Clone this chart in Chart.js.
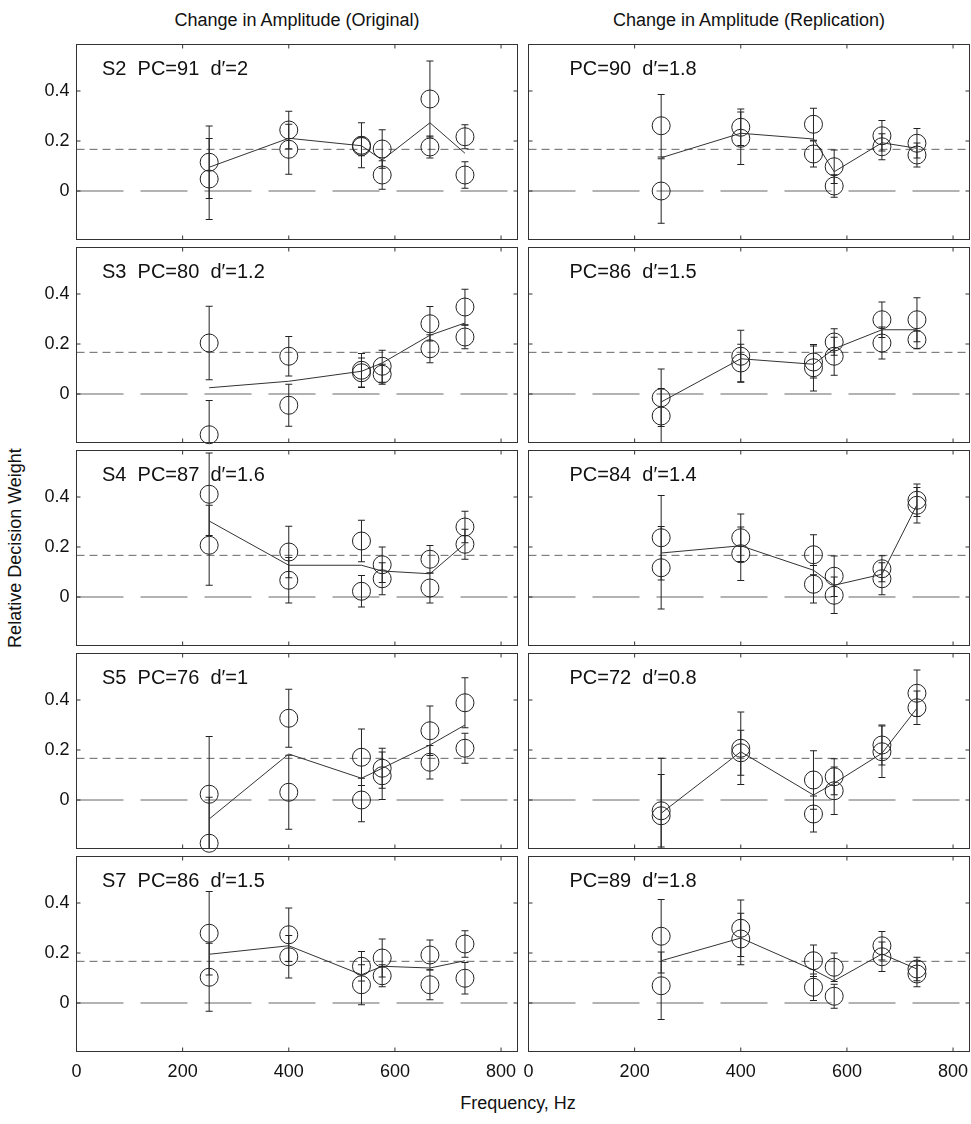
<!DOCTYPE html>
<html>
<head>
<meta charset="utf-8">
<title>Relative decision weights by frequency</title>
<script src="https://cdn.jsdelivr.net/npm/chart.js@4/dist/chart.umd.min.js"></script>
<style>
  html, body { margin: 0; padding: 0; background: #fff; }
  #fig { position: relative; width: 971px; height: 1124px; overflow: hidden;
         font-family: "Liberation Sans", Arial, Helvetica, sans-serif; color: #111; }
  .panel { position: absolute; }
  .txt { position: absolute; white-space: nowrap; font-size: 18px; line-height: 1;
         transform: translate(-50%, -50%); }
  .vert { transform: translate(-50%, -50%) rotate(-90deg); }
</style>
</head>
<body>
<div id="fig">
  <div class="txt" style="left:297px; top:20px;">Change in Amplitude (Original)</div>
  <div class="txt" style="left:749px; top:20px;">Change in Amplitude (Replication)</div>
  <div class="txt vert" style="left:15px; top:548px;">Relative Decision Weight</div>
  <div class="txt" style="left:518px; top:1103px;">Frequency, Hz</div>
</div>
<script>
// ---- component frequencies and axis ticks ----
const FREQUENCIES = [250, 400, 537, 576, 666, 732];
const X_TICKS = [0, 200, 400, 600, 800];
const Y_TICKS = [0, 0.2, 0.4];
const X_RANGE = [0, 831];
const Y_RANGE = [-0.194, 0.586];
const ZERO_WEIGHT = 0;
const EQUAL_WEIGHT = 1 / 6;

// ---- S2 ----
const S2_ORIG_A     = [0.115, 0.244, 0.183, 0.168, 0.368, 0.217];
const S2_ORIG_A_ERR = [0.145, 0.075, 0.090, 0.077, 0.152, 0.048];
const S2_ORIG_B     = [0.048, 0.167, 0.178, 0.064, 0.176, 0.064];
const S2_ORIG_B_ERR = [0.162, 0.100, 0.037, 0.057, 0.044, 0.053];
const S2_ORIG_FIT   = [0.095, 0.211, 0.181, 0.124, 0.273, 0.151];

const S2_REPL_A     = [0.261, 0.255, 0.267, 0.097, 0.221, 0.191];
const S2_REPL_A_ERR = [0.125, 0.073, 0.064, 0.067, 0.061, 0.059];
const S2_REPL_B     = [0.000, 0.211, 0.148, 0.020, 0.177, 0.144];
const S2_REPL_B_ERR = [0.129, 0.105, 0.052, 0.045, 0.052, 0.048];
const S2_REPL_FIT   = [0.133, 0.231, 0.208, 0.077, 0.193, 0.171];

// ---- S3 ----
const S3_ORIG_A     = [0.204, 0.151, 0.095, 0.111, 0.281, 0.348];
const S3_ORIG_A_ERR = [0.147, 0.079, 0.067, 0.064, 0.069, 0.071];
const S3_ORIG_B     = [-0.163, -0.045, 0.085, 0.079, 0.181, 0.228];
const S3_ORIG_B_ERR = [0.137, 0.084, 0.059, 0.040, 0.056, 0.047];
const S3_ORIG_FIT   = [0.025, 0.051, 0.091, 0.124, 0.235, 0.284];

const S3_REPL_A     = [-0.015, 0.151, 0.128, 0.208, 0.297, 0.297];
const S3_REPL_A_ERR = [0.115, 0.104, 0.064, 0.053, 0.071, 0.088];
const S3_REPL_B     = [-0.088, 0.124, 0.105, 0.151, 0.204, 0.217];
const S3_REPL_B_ERR = [0.110, 0.075, 0.093, 0.076, 0.064, 0.036];
const S3_REPL_FIT   = [-0.032, 0.141, 0.119, 0.181, 0.257, 0.257];

// ---- S4 ----
const S4_ORIG_A     = [0.411, 0.180, 0.224, 0.129, 0.151, 0.280];
const S4_ORIG_A_ERR = [0.165, 0.103, 0.083, 0.071, 0.055, 0.063];
const S4_ORIG_B     = [0.207, 0.067, 0.023, 0.073, 0.036, 0.211];
const S4_ORIG_B_ERR = [0.160, 0.091, 0.063, 0.064, 0.060, 0.060];
const S4_ORIG_FIT   = [0.304, 0.127, 0.127, 0.104, 0.093, 0.213];

const S4_REPL_A     = [0.237, 0.237, 0.169, 0.083, 0.113, 0.387];
const S4_REPL_A_ERR = [0.169, 0.095, 0.080, 0.081, 0.052, 0.065];
const S4_REPL_B     = [0.117, 0.173, 0.051, 0.007, 0.073, 0.367];
const S4_REPL_B_ERR = [0.165, 0.107, 0.075, 0.073, 0.064, 0.071];
const S4_REPL_FIT   = [0.176, 0.205, 0.107, 0.047, 0.091, 0.369];

// ---- S5 ----
const S5_ORIG_A     = [0.023, 0.327, 0.171, 0.127, 0.277, 0.389];
const S5_ORIG_A_ERR = [0.231, 0.116, 0.113, 0.080, 0.099, 0.100];
const S5_ORIG_B     = [-0.173, 0.031, 0.000, 0.097, 0.151, 0.207];
const S5_ORIG_B_ERR = [0.184, 0.148, 0.087, 0.095, 0.067, 0.060];
const S5_ORIG_FIT   = [-0.076, 0.184, 0.087, 0.127, 0.220, 0.300];

const S5_REPL_A     = [-0.043, 0.207, 0.080, 0.093, 0.220, 0.427];
const S5_REPL_A_ERR = [0.145, 0.145, 0.117, 0.072, 0.080, 0.093];
const S5_REPL_B     = [-0.063, 0.189, -0.056, 0.037, 0.193, 0.369];
const S5_REPL_B_ERR = [0.230, 0.090, 0.072, 0.095, 0.103, 0.067];
const S5_REPL_FIT   = [-0.053, 0.193, 0.020, 0.067, 0.187, 0.367];

// ---- S7 ----
const S7_ORIG_A     = [0.279, 0.273, 0.147, 0.180, 0.192, 0.236];
const S7_ORIG_A_ERR = [0.167, 0.107, 0.059, 0.076, 0.060, 0.053];
const S7_ORIG_B     = [0.103, 0.185, 0.073, 0.109, 0.073, 0.099];
const S7_ORIG_B_ERR = [0.136, 0.085, 0.080, 0.044, 0.060, 0.063];
const S7_ORIG_FIT   = [0.195, 0.229, 0.113, 0.147, 0.140, 0.169];

const S7_REPL_A     = [0.267, 0.299, 0.169, 0.143, 0.229, 0.136];
const S7_REPL_A_ERR = [0.147, 0.113, 0.063, 0.057, 0.057, 0.047];
const S7_REPL_B     = [0.069, 0.256, 0.063, 0.027, 0.185, 0.116];
const S7_REPL_B_ERR = [0.135, 0.103, 0.053, 0.048, 0.059, 0.051];
const S7_REPL_FIT   = [0.169, 0.260, 0.132, 0.089, 0.196, 0.136];

// ---- panel captions ----
const ORIG_LABELS = ['S2  PC=91  d\u2032=2', 'S3  PC=80  d\u2032=1.2', 'S4  PC=87  d\u2032=1.6',
                     'S5  PC=76  d\u2032=1', 'S7  PC=86  d\u2032=1.5'];
const REPL_LABELS = ['PC=90  d\u2032=1.8', 'PC=86  d\u2032=1.5', 'PC=84  d\u2032=1.4',
                     'PC=72  d\u2032=0.8', 'PC=89  d\u2032=1.8'];

const PANELS = [
  [S2_ORIG_A, S2_ORIG_A_ERR, S2_ORIG_B, S2_ORIG_B_ERR, S2_ORIG_FIT],
  [S2_REPL_A, S2_REPL_A_ERR, S2_REPL_B, S2_REPL_B_ERR, S2_REPL_FIT],
  [S3_ORIG_A, S3_ORIG_A_ERR, S3_ORIG_B, S3_ORIG_B_ERR, S3_ORIG_FIT],
  [S3_REPL_A, S3_REPL_A_ERR, S3_REPL_B, S3_REPL_B_ERR, S3_REPL_FIT],
  [S4_ORIG_A, S4_ORIG_A_ERR, S4_ORIG_B, S4_ORIG_B_ERR, S4_ORIG_FIT],
  [S4_REPL_A, S4_REPL_A_ERR, S4_REPL_B, S4_REPL_B_ERR, S4_REPL_FIT],
  [S5_ORIG_A, S5_ORIG_A_ERR, S5_ORIG_B, S5_ORIG_B_ERR, S5_ORIG_FIT],
  [S5_REPL_A, S5_REPL_A_ERR, S5_REPL_B, S5_REPL_B_ERR, S5_REPL_FIT],
  [S7_ORIG_A, S7_ORIG_A_ERR, S7_ORIG_B, S7_ORIG_B_ERR, S7_ORIG_FIT],
  [S7_REPL_A, S7_REPL_A_ERR, S7_REPL_B, S7_REPL_B_ERR, S7_REPL_FIT]
];

// ---- layout of the 5 x 2 grid (page pixels) ----
const COL_LEFT = [76.5, 528.5];
const PLOT_W = 441;
const ROW_TOP = [44.5, 247.5, 450.5, 653.5, 856.5];
const PLOT_H = 195;
const CANVAS_LEFT = [0, 508];
const CANVAS_W = [527, 463];
const CAPTION_DX = [25.5, 41];

const FONT_FAMILY = '"Liberation Sans", Arial, Helvetica, sans-serif';
Chart.defaults.font.family = FONT_FAMILY;
Chart.defaults.color = '#111';

// Frame, inward ticks, reference lines, error bars and caption of each panel
const panelDecor = {
  id: 'panelDecor',
  beforeDatasetsDraw(chart, args, opts) {
    const { ctx, chartArea: a, scales: { x, y } } = chart;
    ctx.save();
    ctx.beginPath();
    ctx.rect(a.left, a.top, a.right - a.left, a.bottom - a.top);
    ctx.clip();
    ctx.lineWidth = 1;
    // reference weights: zero (long dashes) and equal weight (short dashes)
    [[ZERO_WEIGHT, [47, 17]], [EQUAL_WEIGHT, [8, 5]]].forEach(([v, dash]) => {
      const py = y.getPixelForValue(v);
      ctx.strokeStyle = '#666';
      ctx.setLineDash(dash);
      ctx.beginPath();
      ctx.moveTo(a.left, py);
      ctx.lineTo(a.right, py);
      ctx.stroke();
    });
    ctx.setLineDash([]);
    // error bars (±1 SE) with short caps
    ctx.strokeStyle = '#222';
    chart.data.datasets.forEach(ds => {
      if (!ds.errorBars) return;
      ds.data.forEach((p, i) => {
        const e = ds.errorBars[i];
        const px = x.getPixelForValue(p.x);
        const hi = y.getPixelForValue(p.y + e);
        const lo = y.getPixelForValue(p.y - e);
        ctx.beginPath();
        ctx.moveTo(px, hi); ctx.lineTo(px, lo);
        ctx.moveTo(px - 3.5, hi); ctx.lineTo(px + 3.5, hi);
        ctx.moveTo(px - 3.5, lo); ctx.lineTo(px + 3.5, lo);
        ctx.stroke();
      });
    });
    ctx.restore();
  },
  afterDraw(chart, args, opts) {
    const { ctx, chartArea: a, scales: { x, y } } = chart;
    ctx.save();
    ctx.strokeStyle = '#333';
    ctx.lineWidth = 1;
    ctx.strokeRect(a.left, a.top, a.right - a.left, a.bottom - a.top);
    ctx.beginPath();
    X_TICKS.forEach(v => {
      const px = x.getPixelForValue(v);
      ctx.moveTo(px, a.top); ctx.lineTo(px, a.top + 4);
      ctx.moveTo(px, a.bottom); ctx.lineTo(px, a.bottom - 4);
    });
    Y_TICKS.forEach(v => {
      const py = y.getPixelForValue(v);
      ctx.moveTo(a.left, py); ctx.lineTo(a.left + 4, py);
      ctx.moveTo(a.right, py); ctx.lineTo(a.right - 4, py);
    });
    ctx.stroke();
    // caption
    ctx.fillStyle = '#111';
    ctx.font = '20px ' + FONT_FAMILY;
    ctx.textBaseline = 'alphabetic';
    ctx.textAlign = 'left';
    ctx.fillText(opts.caption, a.left + opts.captionDx, a.top + 30.5);
    ctx.restore();
  }
};

const fig = document.getElementById('fig');

PANELS.forEach((p, k) => {
  const row = Math.floor(k / 2), col = k % 2;
  const [aVals, aErr, bVals, bErr, fitVals] = p;
  const isBottom = row === 4, isLeft = col === 0;

  const canvasTop = Math.floor(ROW_TOP[row]) - 14;
  const padTop = ROW_TOP[row] - canvasTop;
  const padBottom = isBottom ? 49.5 : 15.5;
  const canvasH = Math.round(padTop + PLOT_H + padBottom);
  const yAxisW = COL_LEFT[col] - CANVAS_LEFT[col];
  const padRight = CANVAS_W[col] - yAxisW - PLOT_W;

  const wrap = document.createElement('div');
  wrap.className = 'panel';
  wrap.style.left = CANVAS_LEFT[col] + 'px';
  wrap.style.top = canvasTop + 'px';
  wrap.style.width = CANVAS_W[col] + 'px';
  const cv = document.createElement('canvas');
  cv.width = CANVAS_W[col];
  cv.height = canvasH;
  cv.style.width = CANVAS_W[col] + 'px';
  cv.style.height = canvasH + 'px';
  wrap.appendChild(cv);
  fig.appendChild(wrap);

  const pts = vals => FREQUENCIES.map((f, i) => ({ x: f, y: vals[i] }));
  const circleSet = (vals, err) => ({
    data: pts(vals),
    errorBars: err,
    showLine: false,
    pointStyle: 'circle',
    pointRadius: 9,
    pointBorderWidth: 1,
    pointBorderColor: '#222',
    pointBackgroundColor: 'rgba(0,0,0,0)',
    clip: false
  });

  new Chart(cv, {
    type: 'scatter',
    data: {
      datasets: [
        circleSet(aVals, aErr),
        circleSet(bVals, bErr),
        {
          data: pts(fitVals),
          showLine: true,
          borderColor: '#333',
          borderWidth: 1,
          pointRadius: 0,
          tension: 0,
          fill: false
        }
      ]
    },
    options: {
      responsive: false,
      animation: false,
      events: [],
      devicePixelRatio: 1,
      layout: { autoPadding: false, padding: { top: padTop, right: padRight, bottom: 0, left: 0 } },
      plugins: {
        legend: { display: false },
        tooltip: { enabled: false },
        panelDecor: {
          caption: isLeft ? ORIG_LABELS[row] : REPL_LABELS[row],
          captionDx: CAPTION_DX[col]
        }
      },
      scales: {
        x: {
          type: 'linear',
          min: X_RANGE[0], max: X_RANGE[1],
          grid: { display: false, drawTicks: true, tickLength: 9 },
          border: { display: false },
          afterBuildTicks: s => { s.ticks = X_TICKS.map(v => ({ value: v })); },
          afterFit: s => { s.height = padBottom; },
          ticks: {
            display: isBottom,
            autoSkip: false,
            maxRotation: 0,
            padding: 1,
            color: '#111',
            font: { size: 18 },
            callback: v => String(v)
          }
        },
        y: {
          type: 'linear',
          min: Y_RANGE[0], max: Y_RANGE[1],
          grid: { display: false, drawTicks: true, tickLength: 6 },
          border: { display: false },
          afterBuildTicks: s => { s.ticks = Y_TICKS.map(v => ({ value: v })); },
          afterFit: s => { s.width = yAxisW; },
          ticks: {
            display: isLeft,
            padding: 1,
            color: '#111',
            font: { size: 18 },
            callback: v => String(Math.round(v * 10) / 10)
          }
        }
      }
    },
    plugins: [panelDecor]
  });
});
</script>
</body>
</html>
